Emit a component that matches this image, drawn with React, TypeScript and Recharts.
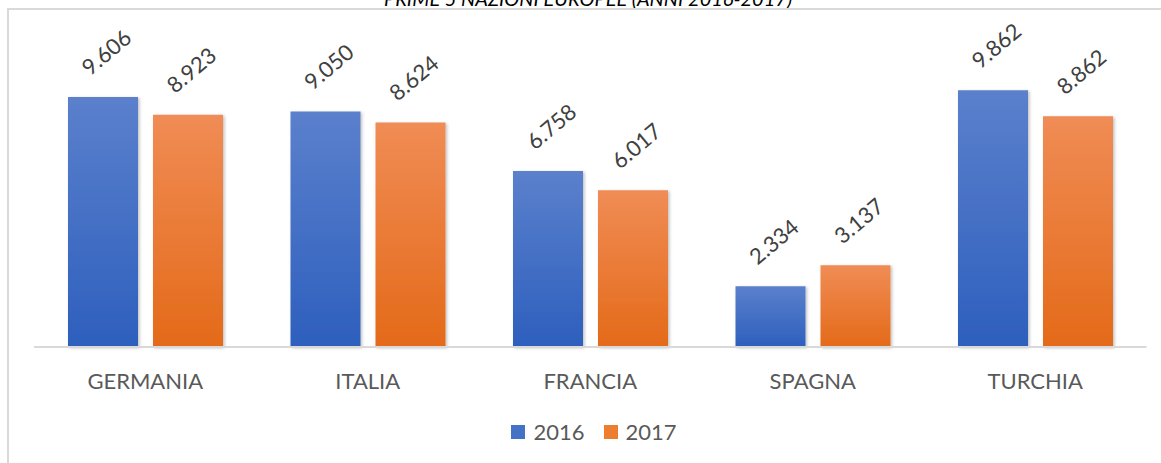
import React from "react";
import { BarChart, Bar, XAxis, YAxis, Legend, LabelList } from "recharts";

const categories = ["GERMANIA", "ITALIA", "FRANCIA", "SPAGNA", "TURCHIA"];
const values2016 = [9.606, 9.05, 6.758, 2.334, 9.862];
const values2017 = [8.923, 8.624, 6.017, 3.137, 8.862];
const seriesNames = ["2016", "2017"];
const titleText = "PRIME 5 NAZIONI EUROPEE (ANNI 2016-2017)";

const data = categories.map((name, i) => ({
  name,
  v2016: values2016[i],
  v2017: values2017[i],
}));

const FONT = "Lato, 'Open Sans', sans-serif";

const renderLabel = (props: any) => {
  const { x, y, width, value } = props;
  const cx = Number(x) + Number(width) / 2 + 3;
  const cy = Number(y) - 45;
  return (
    <text
      x={cx}
      y={cy}
      transform={`rotate(-40 ${cx} ${cy})`}
      textAnchor="middle"
      dominantBaseline="central"
      fontSize={22}
      fill="#404040"
      fontFamily={FONT}
    >
      {Number(value).toFixed(3)}
    </text>
  );
};

const renderLegend = () => {
  const items = [
    { name: seriesNames[0], color: "#4472c4" },
    { name: seriesNames[1], color: "#ed7d31" },
  ];
  return (
    <div style={{ display: "flex", justifyContent: "center", alignItems: "center", fontFamily: FONT }}>
      {items.map((it, i) => (
        <div key={it.name} style={{ display: "flex", alignItems: "center", marginLeft: i === 0 ? 0 : 19 }}>
          <div style={{ width: 14, height: 14, background: it.color, marginRight: 8 }} />
          <span style={{ fontSize: 22, color: "#595959", lineHeight: "24px" }}>{it.name}</span>
        </div>
      ))}
    </div>
  );
};

export default function App() {
  return (
    <div style={{ position: "absolute", left: 0, top: 0, width: 1161, height: 463, overflow: "hidden", background: "#fff" }}>
      <svg width={1161} height={8} style={{ position: "absolute", left: 0, top: 0 }}>
        <text x={588} y={6} textAnchor="middle" fontSize={20} fontStyle="italic" fontFamily={FONT} fill="#000">
          {titleText}
        </text>
      </svg>
      <div
        style={{
          position: "absolute",
          left: 7,
          top: 8,
          width: 1200,
          height: 500,
          borderLeft: "2px solid #d9d9d9",
          borderTop: "2px solid #d9d9d9",
        }}
      />
      <div style={{ position: "absolute", left: 0, top: 0 }}>
        <BarChart
          width={1161}
          height={463}
          data={data}
          margin={{ top: 34.6, right: 14.5, left: 34, bottom: 56 }}
          barCategoryGap={34}
          barGap={15}
        >
          <defs>
            <linearGradient id="gBlue" x1="0" y1="0" x2="0" y2="1">
              <stop offset="0%" stopColor="#5b80cc" />
              <stop offset="100%" stopColor="#2d5fbd" />
            </linearGradient>
            <linearGradient id="gOrange" x1="0" y1="0" x2="0" y2="1">
              <stop offset="0%" stopColor="#f08c55" />
              <stop offset="100%" stopColor="#e46a19" />
            </linearGradient>
            <filter id="shadow" x="-10%" y="-10%" width="130%" height="130%">
              <feDropShadow dx="1.5" dy="1" stdDeviation="1.5" floodColor="#000" floodOpacity="0.25" />
            </filter>
          </defs>
          <XAxis
            dataKey="name"
            height={60}
            axisLine={{ stroke: "#d9d9d9", strokeWidth: 2 }}
            tickLine={false}
            tickSize={0}
            tickMargin={26}
            tick={{ fontSize: 22, fill: "#595959", fontFamily: FONT }}
            interval={0}
          />
          <YAxis hide domain={[0, 12]} />
          <Legend
            verticalAlign="middle"
            align="center"
            layout="horizontal"
            content={renderLegend}
            wrapperStyle={{ top: 420, left: 0, width: 1188 }}
          />
          <Bar dataKey="v2016" name={seriesNames[0]} fill="url(#gBlue)" filter="url(#shadow)" isAnimationActive={false}>
            <LabelList dataKey="v2016" content={renderLabel} />
          </Bar>
          <Bar dataKey="v2017" name={seriesNames[1]} fill="url(#gOrange)" filter="url(#shadow)" isAnimationActive={false}>
            <LabelList dataKey="v2017" content={renderLabel} />
          </Bar>
        </BarChart>
      </div>
    </div>
  );
}
